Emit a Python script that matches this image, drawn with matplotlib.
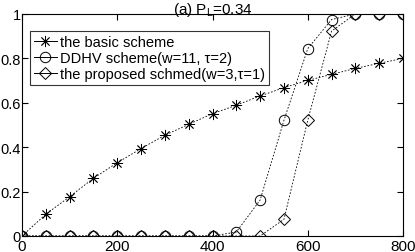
import matplotlib
matplotlib.use("Agg")
import matplotlib.pyplot as plt
from matplotlib.lines import Line2D

x = [0, 50, 100, 150, 200, 250, 300, 350, 400, 450, 500, 550, 600, 650, 700, 750, 800]
basic = [0, 0.098, 0.177, 0.26, 0.33, 0.394, 0.454, 0.503, 0.551, 0.589, 0.631, 0.668, 0.701, 0.728, 0.755, 0.778, 0.80]
ddhv = [0, 0, 0, 0, 0, 0, 0, 0, 0, 0.018, 0.162, 0.521, 0.844, 0.975, 1, 1, 1]
proposed = [0, 0, 0, 0, 0, 0, 0, 0, 0, 0, 0, 0.075, 0.521, 0.923, 1, 1, 1]
labels = ["the basic scheme", "DDHV scheme(w=11, \u03c4=2)", "the proposed schmed(w=3,\u03c4=1)"]
xticks = [0, 200, 400, 600, 800]
yticks = [0, 0.2, 0.4, 0.6, 0.8, 1]
yticklabels = ["0", "0.2", "0.4", "0.6", "0.8", "1"]

plt.rcParams['font.family'] = ['Liberation Sans', 'DejaVu Sans']

fig = plt.figure(figsize=(4.15, 2.53), dpi=100)
ax = fig.add_axes([22/415, 1-237/253, (403-22)/415, (237-15)/253])

ls = (0, (2, 2))
ast = (8, 2, 0)
ax.plot(x, basic, color='black', lw=0.6, ls=ls, marker=ast, ms=8, mew=0.6)
ax.plot(x, ddhv, color='black', lw=0.6, ls=ls, marker='o', ms=7.5, mfc='none', mew=0.7)
ax.plot(x, proposed, color='black', lw=0.6, ls=ls, marker='D', ms=6.5, mfc='none', mew=0.7)

ax.set_xlim(0, 800)
ax.set_ylim(0, 1)
ax.set_xticks(xticks)
ax.set_yticks(yticks)
ax.set_yticklabels(yticklabels)
ax.tick_params(direction='in', top=True, right=True, length=4, width=0.8, pad=2)
ax.tick_params(axis='x', labelsize=11)
ax.tick_params(axis='y', labelsize=10.5, pad=1)
for s in ax.spines.values():
    s.set_linewidth(0.8)
ax.set_title("(a) $\\mathregular{P_L}$=0.34", fontsize=11, pad=1)

handles = [
    Line2D([], [], color='black', lw=0.7, marker=ast, ms=8, mew=0.6),
    Line2D([], [], color='black', lw=0.7, marker='o', ms=7.5, mfc='none', mew=0.7),
    Line2D([], [], color='black', lw=0.7, marker='D', ms=6.5, mfc='none', mew=0.7),
]
leg = ax.legend(handles, labels, loc='upper left', bbox_to_anchor=(0.021, 0.923),
                fontsize=10.5, frameon=True, fancybox=False, edgecolor='black',
                handlelength=1.6, handletextpad=0.2, borderpad=0.25, labelspacing=0.15,
                borderaxespad=0)
leg.get_frame().set_linewidth(0.8)

fig.savefig("out.png", dpi=100)
